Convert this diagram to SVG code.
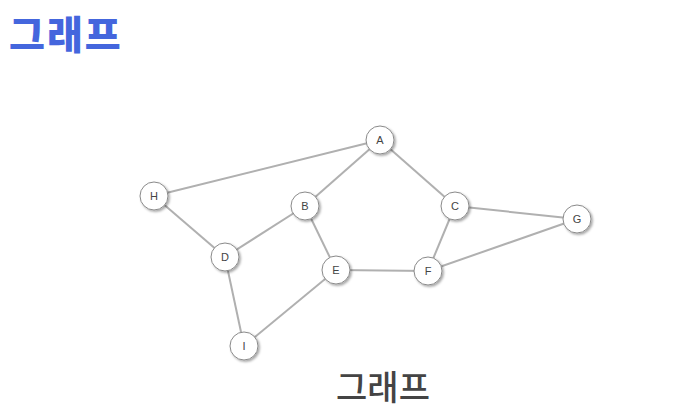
<svg xmlns="http://www.w3.org/2000/svg" width="689" height="417" viewBox="0 0 689 417">
<defs>
<style>
.e{stroke:#b0b0b0;stroke-width:2;fill:none}
.n circle{fill:#fff;stroke:#8a8a8a;stroke-width:1;filter:url(#sh)}
.n text{font-family:"Liberation Sans",Arial,sans-serif;font-size:11px;fill:#444;text-anchor:middle;dominant-baseline:central}
</style>
<filter id="sh" x="-50%" y="-50%" width="200%" height="200%">
<feDropShadow dx="1.5" dy="1.5" stdDeviation="1.2" flood-color="#000" flood-opacity="0.35"/>
</filter>
</defs>
<rect width="689" height="417" fill="#fff"/>
<text x="9" y="49" font-family="'Noto Sans CJK KR',sans-serif" font-weight="900" font-size="39" letter-spacing="2" fill="#4466dd">그래프</text>
<g id="connectors">
<line class="e" x1="154" y1="196" x2="380" y2="140"/>
<line class="e" x1="380" y1="140" x2="305" y2="206"/>
<line class="e" x1="380" y1="140" x2="455" y2="206"/>
<line class="e" x1="154" y1="196" x2="225" y2="257"/>
<line class="e" x1="305" y1="206" x2="225" y2="257"/>
<line class="e" x1="305" y1="206" x2="336" y2="270"/>
<line class="e" x1="455" y1="206" x2="428" y2="271"/>
<line class="e" x1="455" y1="206" x2="577" y2="219"/>
<line class="e" x1="577" y1="219" x2="428" y2="271"/>
<line class="e" x1="336" y1="270" x2="428" y2="271"/>
<line class="e" x1="225" y1="257" x2="244" y2="346"/>
<line class="e" x1="336" y1="270" x2="244" y2="346"/>
</g>
<g id="A" class="n"><circle cx="380" cy="140" r="14"/><text x="380" y="140">A</text></g>
<g id="H" class="n"><circle cx="154" cy="196" r="14"/><text x="154" y="196">H</text></g>
<g id="B" class="n"><circle cx="305" cy="206" r="14"/><text x="305" y="206">B</text></g>
<g id="C" class="n"><circle cx="455" cy="206" r="14"/><text x="455" y="206">C</text></g>
<g id="G" class="n"><circle cx="577" cy="219" r="14"/><text x="577" y="219">G</text></g>
<g id="D" class="n"><circle cx="225" cy="257" r="14"/><text x="225" y="257">D</text></g>
<g id="E" class="n"><circle cx="336" cy="270" r="14"/><text x="336" y="270">E</text></g>
<g id="F" class="n"><circle cx="428" cy="271" r="14"/><text x="428" y="271">F</text></g>
<g id="I" class="n"><circle cx="244" cy="346" r="14"/><text x="244" y="346">I</text></g>
<text x="383" y="400" text-anchor="middle" font-family="'Noto Sans CJK KR',sans-serif" font-weight="500" font-size="34" fill="#444">그래프</text>
</svg>
